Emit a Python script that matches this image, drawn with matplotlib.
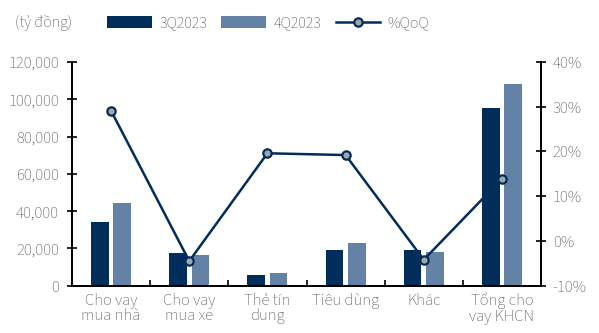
import numpy as np
import matplotlib.pyplot as plt

plt.rcParams['font.family'] = ['Source Sans 3', 'DejaVu Sans']

# Data
categories = ["Cho vay\nmua nhà", "Cho vay\nmua xe", "Thẻ tín\ndung",
              "Tiêu dùng", "Khác", "Tổng cho\nvay KHCN"]
q3_2023 = [34300, 17400, 5700, 19200, 19000, 95200]
q4_2023 = [44200, 16500, 7000, 22900, 17900, 108200]
qoq = [29.1, -4.5, 19.6, 19.2, -4.2, 13.9]

navy = '#002d5a'
steel = '#6482a6'
gray_txt = '#595959'
fs = 12

fig = plt.figure(figsize=(5.99, 3.33), dpi=100)
ax = fig.add_axes([0.1202, 0.142, 0.7830, 0.6718])
ax2 = ax.twinx()

x = np.arange(len(categories))
w = 0.225
b1 = ax.bar(x - 0.143, q3_2023, w, color=navy, label='3Q2023', zorder=2)
b2 = ax.bar(x + 0.143, q4_2023, w, color=steel, label='4Q2023', zorder=2)
ln, = ax2.plot(x, qoq, color=navy, lw=1.8, marker='o', markersize=6,
               markerfacecolor='#a6a6a6', markeredgecolor=navy,
               markeredgewidth=1.6, label='%QoQ', zorder=3)

ax.set_xlim(-0.5, len(categories) - 0.5)
ax.set_ylim(0, 120000)
ax.set_yticks(np.arange(0, 120001, 20000))
ax.set_yticklabels([f"{v:,.0f}" for v in np.arange(0, 120001, 20000)])
ax2.set_ylim(-10, 40)
ax2.set_yticks(np.arange(-10, 41, 10))
ax2.set_yticklabels([f"{v}%" for v in range(-10, 41, 10)])

# category ticks at boundaries, labels centred
ax.set_xticks(np.arange(0.5, len(categories) - 0.5, 1))
ax.set_xticklabels([])
ax.set_xticks(x, minor=True)
ax.set_xticklabels(categories, minor=True, linespacing=0.95)
ax.tick_params(axis='x', which='major', direction='in', length=4, width=1.2)
ax.tick_params(axis='x', which='minor', length=0, pad=5)

for a in (ax, ax2):
    a.spines['top'].set_visible(False)
    for s in ('left', 'right', 'bottom'):
        a.spines[s].set_linewidth(1.3)
    a.tick_params(axis='y', direction='inout', length=7, width=1.2,
                  labelcolor=gray_txt, labelsize=fs)
    a.tick_params(axis='x', which='both', labelcolor=gray_txt, labelsize=fs)
ax.tick_params(axis='y', pad=6)
ax2.tick_params(axis='y', pad=5)
ax2.set_zorder(ax.get_zorder() + 1)
ax2.patch.set_visible(False)

fig.text(0.025, 0.93, "(tỷ đồng)", color=gray_txt, fontsize=11.5, va='center')
fig.legend([b1, b2, ln], ['3Q2023', '4Q2023', '%QoQ'], ncol=3, frameon=False,
           loc='center left', bbox_to_anchor=(0.155, 0.93), fontsize=11.5,
           handlelength=2.8, handletextpad=0.45, columnspacing=0.9,
           labelcolor=gray_txt, handleheight=0.75)

fig.savefig("out.png", dpi=100)
